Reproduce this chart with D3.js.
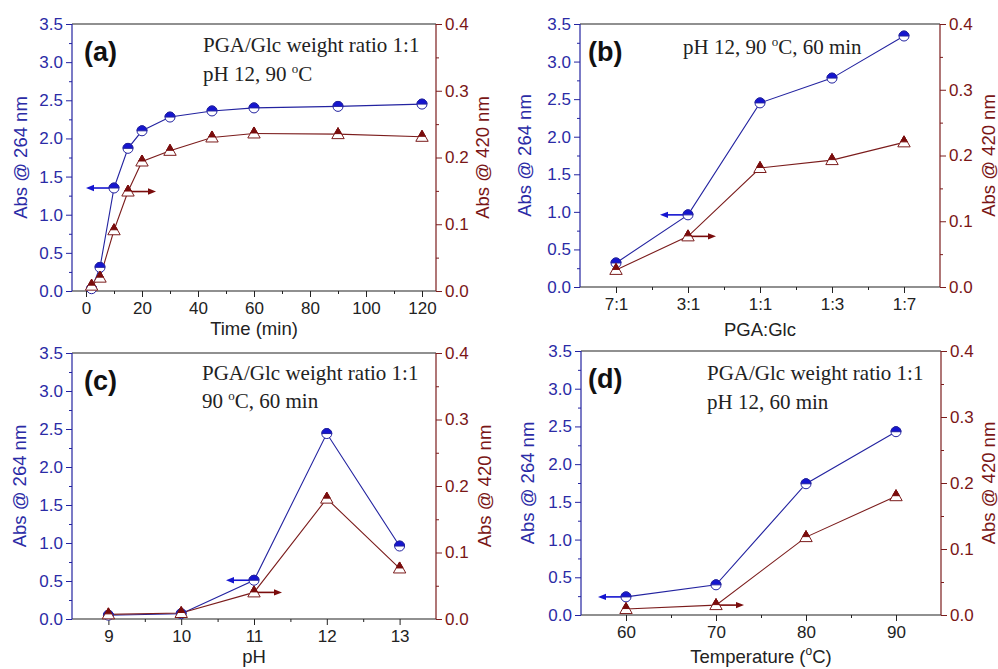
<!DOCTYPE html>
<html><head><meta charset="utf-8">
<script src="https://cdn.jsdelivr.net/npm/d3@7"></script>
<style>
html,body{margin:0;padding:0;background:#fff;}
svg{display:block;}
</style>
</head><body>
<svg id="chart" width="998" height="669"></svg>
<script>
// ---------- data ----------
const timeMin    = [2, 5, 10, 15, 20, 30, 45, 60, 90, 120];
const timeAbs264 = [0.03, 0.31, 1.35, 1.87, 2.10, 2.28, 2.36, 2.40, 2.42, 2.45];
const timeAbs420 = [0.008, 0.02, 0.091, 0.149, 0.194, 0.21, 0.23, 0.236, 0.235, 0.231];

const ratioCats   = ["7:1", "3:1", "1:1", "1:3", "1:7"];
const ratioAbs264 = [0.32, 0.96, 2.45, 2.78, 3.34];
const ratioAbs420 = [0.026, 0.077, 0.181, 0.193, 0.22];

const phVals   = [9, 10, 11, 12, 13];
const phAbs264 = [0.05, 0.07, 0.51, 2.44, 0.96];
const phAbs420 = [0.007, 0.009, 0.04, 0.181, 0.076];

const tempVals   = [60, 70, 80, 90];
const tempAbs264 = [0.24, 0.40, 1.74, 2.43];
const tempAbs420 = [0.009, 0.015, 0.118, 0.18];

const leftTicks  = [0, 0.5, 1.0, 1.5, 2.0, 2.5, 3.0, 3.5];
const rightTicks = [0, 0.1, 0.2, 0.3, 0.4];
const timeTicks  = [0, 20, 40, 60, 80, 100, 120];
const phTicks    = [9, 10, 11, 12, 13];
const tempTicks  = [60, 70, 80, 90];

// ---------- style ----------
const BLUE_TXT = "#2b2ba6", BLUE_LINE = "#2323a0", BLUE_FILL = "#1515d0";
const RED_TXT = "#7a1616", RED_LINE = "#7b1c1c", RED_FILL = "#7a0c0c";
const SANS = "Arial, 'Liberation Sans', sans-serif";
const SERIF = "'Times New Roman', 'Liberation Serif', serif";

const svg = d3.select("#chart");

function drawPanel(cfg) {
  const g = svg.append("g");
  const [x0, x1] = cfg.xr, [y0, y1] = cfg.yr; // y0 top, y1 bottom
  const x = d3.scaleLinear().domain(cfg.xDomain).range([x0, x1]);
  const yL = d3.scaleLinear().domain([0, 3.5]).range([y1, y0]);
  const yR = d3.scaleLinear().domain([0, 0.4]).range([y1, y0]);

  // frame: top line black
  g.append("line").attr("x1", x0).attr("x2", x1).attr("y1", y0).attr("y2", y0)
    .attr("stroke", "#222").attr("stroke-width", 1.2);

  // bottom axis
  const minorX = d3.range(cfg.xMinor[0], cfg.xMinor[1] + 1e-9, cfg.xMinor[2]);
  const gb = g.append("g").attr("transform", `translate(0,${y1})`);
  gb.call(d3.axisBottom(x).tickValues(minorX).tickSize(3).tickFormat(""))
    .call(s => s.select(".domain").remove());
  gb.selectAll("line").attr("stroke", "#222");
  const gb2 = g.append("g").attr("transform", `translate(0,${y1})`);
  gb2.call(d3.axisBottom(x).tickValues(cfg.xTicks).tickSize(6).tickPadding(5)
      .tickFormat(cfg.xFormat || (d => d)));
  gb2.select(".domain").attr("stroke", "#222").attr("stroke-width", 1.2).attr("d", `M${x0},0H${x1}`);
  gb2.selectAll("line").attr("stroke", "#222");
  gb2.selectAll("text").attr("font-family", SANS).attr("font-size", 17).attr("fill", "#222");

  // left axis
  const gl = g.append("g").attr("transform", `translate(${x0},0)`);
  gl.call(d3.axisLeft(yL).tickValues(d3.range(0.25, 3.5, 0.5)).tickSize(3).tickFormat(""))
    .call(s => s.select(".domain").remove());
  gl.selectAll("line").attr("stroke", BLUE_LINE);
  const gl2 = g.append("g").attr("transform", `translate(${x0},0)`);
  gl2.call(d3.axisLeft(yL).tickValues(leftTicks).tickSize(6).tickPadding(3).tickFormat(d3.format(".1f")));
  gl2.select(".domain").attr("stroke", BLUE_LINE).attr("stroke-width", 1.2).attr("d", `M0,${y0}V${y1}`);
  gl2.selectAll("line").attr("stroke", BLUE_LINE);
  gl2.selectAll("text").attr("font-family", SANS).attr("font-size", 17).attr("fill", BLUE_TXT);

  // right axis
  const gr = g.append("g").attr("transform", `translate(${x1},0)`);
  gr.call(d3.axisRight(yR).tickValues(d3.range(0.05, 0.4, 0.1)).tickSize(3).tickFormat(""))
    .call(s => s.select(".domain").remove());
  gr.selectAll("line").attr("stroke", RED_LINE);
  const gr2 = g.append("g").attr("transform", `translate(${x1},0)`);
  gr2.call(d3.axisRight(yR).tickValues(rightTicks).tickSize(6).tickPadding(3).tickFormat(d3.format(".1f")));
  gr2.select(".domain").attr("stroke", RED_LINE).attr("stroke-width", 1.2).attr("d", `M0,${y0}V${y1}`);
  gr2.selectAll("line").attr("stroke", RED_LINE);
  gr2.selectAll("text").attr("font-family", SANS).attr("font-size", 17).attr("fill", RED_TXT);

  // axis titles
  const yMid = (y0 + y1) / 2;
  g.append("text").attr("transform", `translate(${cfg.lTitleX},${yMid}) rotate(-90)`)
    .attr("text-anchor", "middle").attr("font-family", SANS).attr("font-size", 18.5)
    .attr("fill", BLUE_TXT).text("Abs @ 264 nm");
  g.append("text").attr("transform", `translate(${cfg.rTitleX},${yMid}) rotate(-90)`)
    .attr("text-anchor", "middle").attr("font-family", SANS).attr("font-size", 18.5)
    .attr("fill", RED_TXT).text("Abs @ 420 nm");
  const xt = g.append("text").attr("x", (x0 + x1) / 2).attr("y", cfg.xTitleY)
    .attr("text-anchor", "middle").attr("font-family", SANS).attr("font-size", 18.5).attr("fill", "#222");
  cfg.xTitle(xt);

  // lines
  const pts = cfg.xs.map((v, i) => ({x: v, a: cfg.a264[i], b: cfg.a420[i]}));
  g.append("path").datum(pts).attr("fill", "none").attr("stroke", BLUE_LINE).attr("stroke-width", 1.1)
    .attr("d", d3.line().x(d => x(d.x)).y(d => yL(d.a)));
  g.append("path").datum(pts).attr("fill", "none").attr("stroke", RED_LINE).attr("stroke-width", 1.1)
    .attr("d", d3.line().x(d => x(d.x)).y(d => yR(d.b)));

  // arrows
  function arrow(px, py, dir, color) {
    const len = 28;
    const ex = px + dir * len;
    g.append("line").attr("x1", px).attr("y1", py).attr("x2", ex - dir * 6).attr("y2", py)
      .attr("stroke", color).attr("stroke-width", 1.6);
    g.append("path").attr("d", `M${ex},${py}L${ex - dir * 8},${py - 3.2}L${ex - dir * 8},${py + 3.2}Z`)
      .attr("fill", color);
  }
  const bi = cfg.blueArrow, ri = cfg.redArrow;
  arrow(x(pts[bi].x), yL(pts[bi].a), -1, BLUE_FILL);
  arrow(x(pts[ri].x), yR(pts[ri].b), 1, RED_FILL);

  // circle markers
  const r = 5;
  const cg = g.selectAll(".c").data(pts).enter().append("g")
    .attr("transform", d => `translate(${x(d.x)},${yL(d.a)})`);
  cg.append("circle").attr("r", r).attr("fill", "#fff").attr("stroke", BLUE_LINE).attr("stroke-width", 1);
  cg.append("path").attr("d", `M${-r},0A${r},${r} 0 0 1 ${r},0Z`).attr("fill", BLUE_FILL)
    .attr("stroke", BLUE_LINE).attr("stroke-width", 1);

  // triangle markers
  const tg = g.selectAll(".t").data(pts).enter().append("g")
    .attr("transform", d => `translate(${x(d.x)},${yR(d.b)})`);
  tg.append("path").attr("d", "M0,-6.5L6.2,4.5L-6.2,4.5Z").attr("fill", "#fff")
    .attr("stroke", RED_LINE).attr("stroke-width", 1);
  tg.append("path").attr("d", "M0,-6.5L3.4,-0.5L-3.4,-0.5Z").attr("fill", RED_FILL)
    .attr("stroke", RED_FILL).attr("stroke-width", 1);

  // panel label
  g.append("text").attr("x", cfg.label[1]).attr("y", cfg.label[2])
    .attr("font-family", SANS).attr("font-weight", "bold").attr("font-size", 27)
    .attr("fill", "#111").text(cfg.label[0]);

  // condition text
  cfg.notes.forEach(n => {
    const t = g.append("text").attr("x", n.x).attr("y", n.y).attr("font-family", SERIF)
      .attr("font-size", 21).attr("fill", "#222");
    let shift = 0;
    n.parts.forEach(p => {
      const sp = t.append("tspan").text(p.t);
      if (p.sup) {
        sp.attr("font-size", 13).attr("dy", -8);
        shift = 8;
      } else if (shift) {
        sp.attr("dy", shift);
        shift = 0;
      }
    });
  });
}

function supTitle(sel, before, sup, after) {
  sel.append("tspan").text(before);
  sel.append("tspan").attr("font-size", 12).attr("dy", -8).text(sup);
  sel.append("tspan").attr("dy", 8).text(after);
}

drawPanel({
  xr: [72, 436], yr: [24, 291], xDomain: [-5, 125],
  xTicks: timeTicks, xMinor: [10, 110, 20],
  xs: timeMin, a264: timeAbs264, a420: timeAbs420,
  blueArrow: 2, redArrow: 3,
  lTitleX: 27, rTitleX: 489, xTitleY: 335,
  xTitle: s => s.text("Time (min)"),
  label: ["(a)", 84, 61],
  notes: [
    {x: 203, y: 52, parts: [{t: "PGA/Glc weight ratio 1:1"}]},
    {x: 203, y: 81, parts: [{t: "pH 12, 90 "}, {t: "o", sup: true}, {t: "C"}]}
  ]
});

drawPanel({
  xr: [580, 940], yr: [24, 287], xDomain: [-0.5, 4.5],
  xTicks: [0, 1, 2, 3, 4], xMinor: [0.5, 3.5, 1], xFormat: i => ratioCats[i],
  xs: ratioCats.map((c, i) => i), a264: ratioAbs264, a420: ratioAbs420,
  blueArrow: 1, redArrow: 1,
  lTitleX: 531, rTitleX: 995, xTitleY: 336,
  xTitle: s => s.text("PGA:Glc"),
  label: ["(b)", 588, 61],
  notes: [
    {x: 683, y: 54, parts: [{t: "pH 12, 90 "}, {t: "o", sup: true}, {t: "C, 60 min"}]}
  ]
});

drawPanel({
  xr: [72, 436], yr: [353, 619], xDomain: [8.5, 13.5],
  xTicks: phTicks, xMinor: [9.5, 12.5, 1],
  xs: phVals, a264: phAbs264, a420: phAbs420,
  blueArrow: 2, redArrow: 2,
  lTitleX: 26, rTitleX: 491, xTitleY: 663,
  xTitle: s => s.text("pH"),
  label: ["(c)", 84, 390],
  notes: [
    {x: 202, y: 380, parts: [{t: "PGA/Glc weight ratio 1:1"}]},
    {x: 202, y: 408, parts: [{t: "90 "}, {t: "o", sup: true}, {t: "C, 60 min"}]}
  ]
});

drawPanel({
  xr: [581, 941], yr: [351, 615], xDomain: [55, 95],
  xTicks: tempTicks, xMinor: [65, 85, 10],
  xs: tempVals, a264: tempAbs264, a420: tempAbs420,
  blueArrow: 0, redArrow: 1,
  lTitleX: 534, rTitleX: 995, xTitleY: 663,
  xTitle: s => supTitle(s, "Temperature (", "o", "C)"),
  label: ["(d)", 588, 388],
  notes: [
    {x: 707, y: 380, parts: [{t: "PGA/Glc weight ratio 1:1"}]},
    {x: 707, y: 409, parts: [{t: "pH 12, 60 min"}]}
  ]
});
</script>
</body></html>
